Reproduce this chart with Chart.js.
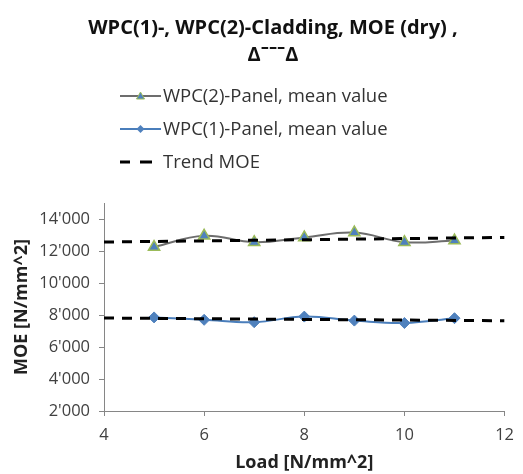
<!DOCTYPE html>
<html>
<head>
<meta charset="utf-8">
<script src="https://cdn.jsdelivr.net/npm/chart.js@4/dist/chart.umd.min.js"></script>
<style>
  html, body { margin: 0; padding: 0; background: #ffffff; }
  #wrap { width: 523px; height: 474px; position: relative; }
</style>
</head>
<body>
<div id="wrap"><canvas id="c" width="523" height="474"></canvas></div>
<script>
// ---- data ----
const loadValues = [5, 6, 7, 8, 9, 10, 11];
const wpc2Values = [12250, 12950, 12550, 12850, 13150, 12550, 12650];
const wpc1Values = [7850, 7700, 7550, 7900, 7650, 7500, 7800];
const trendX = [4, 12];
const trendWpc2 = [12560, 12850];
const trendWpc1 = [7810, 7640];
const xTickValues = [4, 6, 8, 10, 12];
const yTickValues = [2000, 4000, 6000, 8000, 10000, 12000, 14000];
const titleLines = ['WPC(1)-, WPC(2)-Cladding, MOE (dry) ,', 'Δˉˉˉ\u0394'];
const legendLabels = ['WPC(2)-Panel, mean value', 'WPC(1)-Panel, mean value', 'Trend MOE'];
const xTitle = 'Load [N/mm^2]';
const yTitle = 'MOE [N/mm^2]';

const FONT = '"Open Sans", "Noto Sans", "Liberation Sans", sans-serif';
const toXY = (xs, ys) => xs.map((x, i) => ({ x: x, y: ys[i] }));
const fmt = v => String(v).replace(/\B(?=(\d{3})+(?!\d))/g, "'");

const legendPlugin = {
  id: 'customLegend',
  afterDraw(chart) {
    const ctx = chart.ctx;
    ctx.save();
    const x0 = 120, x1 = 161, tx = 163;
    const rows = [96, 129, 162];
    ctx.font = '18.5px ' + FONT;
    ctx.textBaseline = 'middle';
    ctx.textAlign = 'left';
    const cx = (x0 + x1) / 2;
    // row 1: gray line + triangle
    ctx.strokeStyle = '#6d6d6d'; ctx.lineWidth = 2;
    ctx.beginPath(); ctx.moveTo(x0, rows[0]); ctx.lineTo(x1, rows[0]); ctx.stroke();
    ctx.fillStyle = '#4f81bd'; ctx.strokeStyle = '#9bbb59'; ctx.lineWidth = 1;
    ctx.beginPath(); ctx.moveTo(cx, rows[0] - 4); ctx.lineTo(cx + 4, rows[0] + 3); ctx.lineTo(cx - 4, rows[0] + 3); ctx.closePath(); ctx.fill(); ctx.stroke();
    // row 2: blue line + diamond
    ctx.strokeStyle = '#4a7ebb'; ctx.lineWidth = 2;
    ctx.beginPath(); ctx.moveTo(x0, rows[1]); ctx.lineTo(x1, rows[1]); ctx.stroke();
    ctx.fillStyle = '#4f81bd';
    ctx.beginPath(); ctx.moveTo(cx, rows[1] - 4); ctx.lineTo(cx + 4, rows[1]); ctx.lineTo(cx, rows[1] + 4); ctx.lineTo(cx - 4, rows[1]); ctx.closePath(); ctx.fill();
    // row 3: dashed black
    ctx.strokeStyle = '#000000'; ctx.lineWidth = 3;
    ctx.beginPath(); ctx.moveTo(x0, rows[2]); ctx.lineTo(x0 + 10, rows[2]); ctx.moveTo(x0 + 20, rows[2]); ctx.lineTo(x0 + 32, rows[2]); ctx.stroke();
    ctx.fillStyle = '#333333';
    legendLabels.forEach((t, i) => ctx.fillText(t, tx, rows[i] + 1));
    ctx.restore();
  }
};

new Chart(document.getElementById('c'), {
  type: 'line',
  data: {
    datasets: [
      {
        label: legendLabels[0],
        data: toXY(loadValues, wpc2Values),
        borderColor: '#6d6d6d', borderWidth: 2, tension: 0.4,
        pointStyle: 'triangle', pointRadius: 6.5,
        pointBackgroundColor: '#4f81bd', pointBorderColor: '#9bbb59', pointBorderWidth: 1.5,
        order: 2
      },
      {
        label: legendLabels[1],
        data: toXY(loadValues, wpc1Values),
        borderColor: '#4a7ebb', borderWidth: 2, tension: 0.4,
        pointStyle: 'rectRot', pointRadius: 5.5,
        pointBackgroundColor: '#4f81bd', pointBorderColor: '#4f81bd', pointBorderWidth: 1,
        order: 2
      },
      {
        label: legendLabels[2],
        data: toXY(trendX, trendWpc2),
        borderColor: '#000000', borderWidth: 3, borderDash: [10, 8],
        pointRadius: 0, tension: 0, order: 1
      },
      {
        label: legendLabels[2],
        data: toXY(trendX, trendWpc1),
        borderColor: '#000000', borderWidth: 3, borderDash: [10, 8],
        pointRadius: 0, tension: 0, order: 1
      }
    ]
  },
  options: {
    responsive: false,
    animation: false,
    layout: { padding: { left: 35, right: 12, top: 0, bottom: 0 } },
    plugins: {
      legend: { display: false },
      tooltip: { enabled: false },
      title: {
        display: true,
        text: titleLines,
        color: '#111111',
        font: { family: FONT, size: 20, weight: 'bold', lineHeight: 1.35 },
        padding: { top: 14.5, bottom: 134.5 }
      }
    },
    scales: {
      x: {
        type: 'linear', min: 4, max: 12,
        afterBuildTicks: s => { s.ticks = xTickValues.map(v => ({ value: v })); },
        afterFit: s => { s.height = 63; },
        grid: { display: true, drawOnChartArea: false, drawTicks: true, tickLength: 5, color: '#868686' },
        border: { display: true, color: '#868686', width: 1 },
        ticks: { color: '#404040', padding: 9, font: { family: FONT, size: 16.5 }, maxRotation: 0 },
        title: { display: true, text: xTitle, color: '#222222', font: { family: FONT, size: 18, weight: 'bold' }, padding: { top: 0, bottom: 0 } }
      },
      y: {
        type: 'linear', min: 2000, max: 15000,
        afterBuildTicks: s => { s.ticks = yTickValues.map(v => ({ value: v })); },
        afterFit: s => { s.width = 69; },
        grid: { display: true, drawOnChartArea: false, drawTicks: true, tickLength: 5, color: '#868686' },
        border: { display: true, color: '#868686', width: 1 },
        ticks: { color: '#404040', padding: 9, font: { family: FONT, size: 16.5 }, callback: v => fmt(v) },
        title: { display: true, text: yTitle, color: '#222222', font: { family: FONT, size: 18, weight: 'bold' }, padding: { top: -23.8, bottom: 0 } }
      }
    }
  },
  plugins: [legendPlugin]
});
</script>
</body>
</html>
